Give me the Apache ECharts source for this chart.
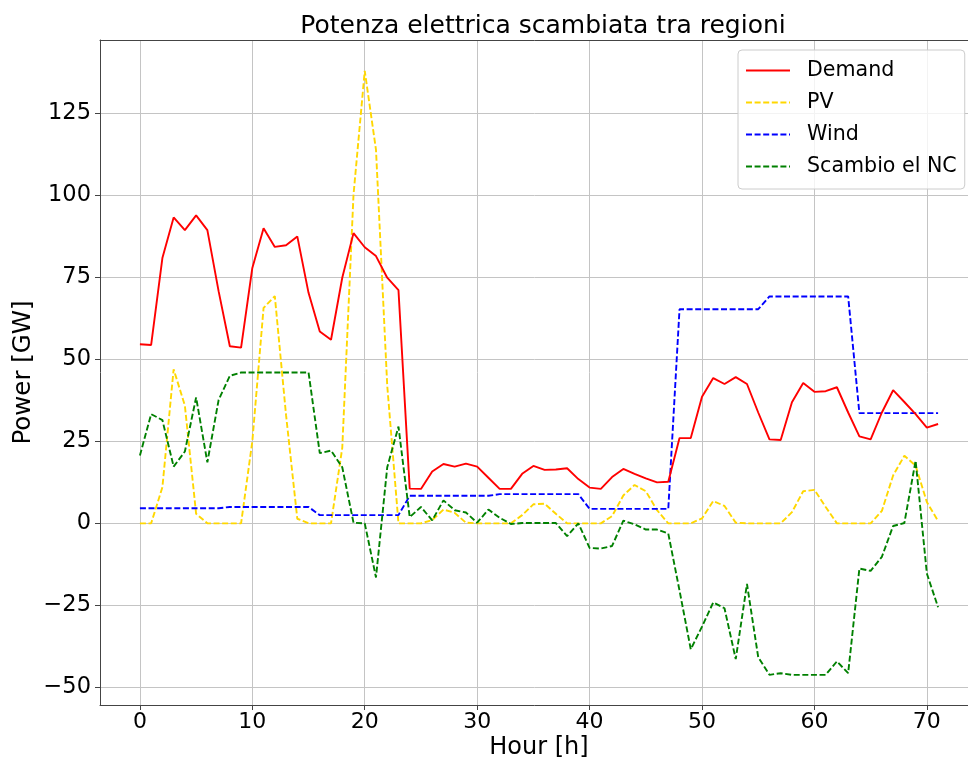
<!DOCTYPE html>
<html>
<head>
<meta charset="utf-8">
<script src="https://cdn.jsdelivr.net/npm/echarts@6/dist/echarts.min.js"></script>
<style>
  html, body { margin: 0; padding: 0; background: #ffffff; }
  #chart { width: 968px; height: 760px; }
</style>
</head>
<body>
<div id="chart"></div>
<script>
// Hourly power exchanged between regions (GW), 72 hours
const hours = Array.from({ length: 72 }, (_, i) => i);

const demand = [
  54.6, 54.4, 80.9, 93.3, 89.4, 93.9, 89.4, 70.8, 54.0, 53.6,
  77.9, 90.0, 84.3, 84.8, 87.5, 70.3, 58.5, 56.0, 74.9, 88.5,
  84.2, 81.5, 74.9, 71.1, 10.6, 10.5, 15.8, 18.1, 17.3, 18.2,
  17.3, 13.9, 10.5, 10.5, 15.1, 17.5, 16.3, 16.4, 16.8, 13.5,
  10.9, 10.5, 14.1, 16.6, 15.1, 13.7, 12.5, 12.7, 26.0, 26.0,
  38.6, 44.3, 42.5, 44.6, 42.5, 33.8, 25.6, 25.4, 36.9, 42.8,
  40.1, 40.3, 41.5, 33.8, 26.5, 25.6, 33.8, 40.6, 37.0, 33.3,
  29.2, 30.3
];

const pv = [
  0, 0, 11.0, 47.0, 35.9, 2.9, 0, 0, 0, 0,
  25.0, 65.7, 69.3, 33.0, 1.4, 0, 0, 0, 23.0, 100.2,
  138.0, 113.9, 42.0, 0, 0, 0, 1.0, 4.2, 3.2, 0.2,
  0, 0, 0, 0, 2.5, 5.8, 6.0, 2.9, 0, 0,
  0, 0, 2.2, 8.5, 11.7, 9.8, 4.0, 0, 0, 0,
  1.5, 6.8, 5.3, 0.2, 0, 0, 0, 0, 3.4, 9.8,
  10.2, 5.0, 0, 0, 0, 0, 3.8, 14.6, 20.6, 17.6,
  6.5, 0.7
];

const wind = [
  4.6, 4.6, 4.6, 4.6, 4.6, 4.6, 4.6, 4.6, 5.0, 5.0,
  5.0, 5.0, 5.0, 5.0, 5.0, 5.0, 2.5, 2.5, 2.5, 2.5,
  2.5, 2.5, 2.5, 2.5, 8.4, 8.4, 8.4, 8.4, 8.4, 8.4,
  8.4, 8.4, 8.9, 8.9, 8.9, 8.9, 8.9, 8.9, 8.9, 8.9,
  4.4, 4.4, 4.4, 4.4, 4.4, 4.4, 4.4, 4.4, 65.3, 65.3,
  65.3, 65.3, 65.3, 65.3, 65.3, 65.3, 69.2, 69.2, 69.2, 69.2,
  69.2, 69.2, 69.2, 69.2, 33.6, 33.6, 33.6, 33.6, 33.6, 33.6,
  33.6, 33.6
];

const scambio = [
  20.7, 33.3, 31.5, 17.3, 21.9, 38.4, 18.6, 37.6, 45.0, 46.0,
  46.0, 46.0, 46.0, 46.0, 46.0, 46.0, 21.4, 22.2, 17.1, 0.2,
  0, -16.5, 17.1, 29.5, 1.9, 5.0, 0.9, 7.0, 4.0, 3.3,
  0.2, 4.2, 1.7, -0.2, 0.1, 0.1, 0.1, 0.1, -3.9, 0,
  -7.5, -7.7, -6.9, 0.8, -0.3, -1.9, -1.9, -3.1, -20.5, -38.4,
  -31.5, -24.1, -25.9, -41.4, -18.5, -40.8, -46.2, -45.7, -46.2, -46.2,
  -46.2, -46.2, -42.1, -45.7, -13.8, -14.5, -10.2, -0.8, 0.1, 19.1,
  -15.3, -25.6
];

const xTicks = [0, 10, 20, 30, 40, 50, 60, 70];
const yTicks = [-50, -25, 0, 25, 50, 75, 100, 125];

const FONT = 'DejaVu Sans';
const pair = (arr) => hours.map((h, i) => [h, arr[i]]);
const minusSign = (v) => String(v).replace('-', '\u2212');

const chart = echarts.init(document.getElementById('chart'), null, { renderer: 'canvas' });

const dash = [6, 2.6];

chart.setOption({
  animation: false,
  backgroundColor: '#ffffff',
  title: {
    text: 'Potenza elettrica scambiata tra regioni',
    left: 538,
    textAlign: 'center',
    top: 9,
    textStyle: { fontFamily: FONT, fontSize: 25, fontWeight: 'normal', color: '#000' }
  },
  legend: {
    orient: 'vertical',
    left: 738,
    top: 50,
    padding: [10, 8, 12, 7],
    itemWidth: 44,
    itemHeight: 14,
    itemGap: 11,
    backgroundColor: 'rgba(255,255,255,0.8)',
    borderColor: '#cccccc',
    borderWidth: 1,
    borderRadius: 4,
    itemStyle: { color: 'rgba(0,0,0,0)', borderColor: 'rgba(0,0,0,0)', borderWidth: 0, opacity: 0 },
    textStyle: { fontFamily: FONT, fontSize: 20.6, color: '#000', padding: [0, 0, 0, 12], lineHeight: 20 },
    data: ['Demand', 'PV', 'Wind', 'Scambio el NC']
  },
  grid: { left: 100, right: -10, top: 40, bottom: 55, containLabel: false, outerBoundsMode: 'none' },
  xAxis: [
    {
      type: 'value',
      min: -3.55,
      max: 74.55,
      name: 'Hour [h]',
      nameLocation: 'middle',
      nameGap: 31,
      nameMoveOverlap: false,
      nameTextStyle: { fontFamily: FONT, fontSize: 24, color: '#000' },
      axisLine: { show: true, onZero: false, lineStyle: { color: '#444', width: 1 } },
      axisTick: { show: true, inside: false, length: 5, customValues: xTicks, lineStyle: { color: '#444' } },
      axisLabel: { customValues: xTicks, margin: 6, fontFamily: FONT, fontSize: 22, color: '#000' },
      splitLine: { show: true, lineStyle: { color: '#c4c4c4', width: 1 } }
    },
    {
      type: 'value',
      position: 'top',
      min: -3.55,
      max: 74.55,
      axisLine: { show: true, onZero: false, lineStyle: { color: '#444', width: 1 } },
      axisTick: { show: false },
      axisLabel: { show: false },
      splitLine: { show: false }
    }
  ],
  yAxis: {
    type: 'value',
    min: -55.4,
    max: 147.4,
    name: 'Power [GW]',
    nameLocation: 'middle',
    nameGap: 64,
    nameMoveOverlap: false,
    nameRotate: 90,
    nameTextStyle: { fontFamily: FONT, fontSize: 24.5, color: '#000' },
    axisLine: { show: true, onZero: false, lineStyle: { color: '#444', width: 1 } },
    axisTick: { show: true, inside: false, length: 5, customValues: yTicks, lineStyle: { color: '#444' } },
    axisLabel: { customValues: yTicks, margin: 9, fontFamily: FONT, fontSize: 22.5, color: '#000', formatter: minusSign },
    splitLine: { show: true, lineStyle: { color: '#c4c4c4', width: 1 } }
  },
  series: [
    {
      name: 'Demand', type: 'line', data: pair(demand), symbol: 'none',
      lineStyle: { color: '#ff0000', width: 1.9, type: 'solid' },
      itemStyle: { color: '#ff0000' }, z: 4
    },
    {
      name: 'PV', type: 'line', data: pair(pv), symbol: 'none',
      lineStyle: { color: '#ffd700', width: 1.9, type: dash },
      itemStyle: { color: '#ffd700' }, z: 3
    },
    {
      name: 'Wind', type: 'line', data: pair(wind), symbol: 'none',
      lineStyle: { color: '#0000ff', width: 1.9, type: dash },
      itemStyle: { color: '#0000ff' }, z: 3
    },
    {
      name: 'Scambio el NC', type: 'line', data: pair(scambio), symbol: 'none',
      lineStyle: { color: '#008000', width: 1.9, type: dash },
      itemStyle: { color: '#008000' }, z: 3
    }
  ]
});
</script>
</body>
</html>
